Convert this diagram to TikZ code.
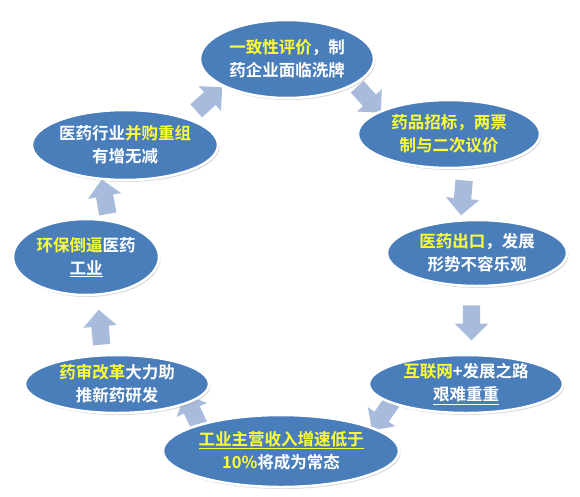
\documentclass[tikz,border=0pt]{standalone}
\usepackage{fontspec}
\newfontfamily\cjk{Noto Sans CJK SC Bold}
\usetikzlibrary{shapes.geometric, shapes.arrows, shadows, calc, backgrounds}

\definecolor{bubblefill}{HTML}{4A7EBB}
\definecolor{hilite}{HTML}{FFFF33}
\definecolor{arrowfill}{HTML}{A8BBDC}
\newcommand{\yel}[1]{\textcolor{hilite}{#1}}

\begin{document}
\begin{tikzpicture}[
        x=1pt, y=-1pt,
    bubble/.style={ellipse, draw=white, line width=2.5pt, fill=bubblefill, inner sep=0pt, drop shadow={shadow xshift=1.5pt, shadow yshift=-2pt, opacity=0.3}},
    btext/.style={text=white, align=center, inner sep=0pt, font=\cjk\fontsize{16.5}{23}\selectfont},
    blockarrow/.style={single arrow, draw=none, fill=arrowfill, minimum height=35pt, inner xsep=0pt, inner ysep=8.5pt, single arrow head extend=8pt}
    ]
    \useasboundingbox (0,0) rectangle (580,496);

    % nodes
    \node[bubble, minimum width=174pt, minimum height=78pt] (top) at (287,59) {};
    \node[bubble, minimum width=182pt, minimum height=68pt] (topright) at (449,134) {};
    \node[bubble, minimum width=180pt, minimum height=66pt] (rightmid) at (477,253) {};
    \node[bubble, minimum width=194pt, minimum height=58pt] (rightbot) at (466,384) {};
    \node[bubble, minimum width=236pt, minimum height=72pt] (bottom) at (281,451) {};
    \node[bubble, minimum width=184pt, minimum height=58pt] (leftbot) at (117,384) {};
    \node[bubble, minimum width=146pt, minimum height=76pt] (leftmid) at (86,257) {};
    \node[bubble, minimum width=186pt, minimum height=70pt] (lefttop) at (125,145) {};

    % texts
    \node[btext] (top-txt) at (top) {\yel{一致性评价}，制\\药企业面临洗牌};
    \node[btext] (topright-txt) at (topright) {\yel{药品招标，两票}\\\yel{制与二次议价}};
    \node[btext] (rightmid-txt) at (rightmid) {\yel{医药出口}，发展\\形势不容乐观};
    \node[btext] (rightbot-txt) at (rightbot) {\yel{互联网}+发展之路\\\underline{艰难重重}};
    \node[btext] (bottom-txt) at (bottom) {\yel{\underline{工业主营收入增速低于}}\\\yel{10\%}将成为常态};
    \node[btext] (leftbot-txt) at (leftbot) {\yel{药审改革}大力助\\推新药研发};
    \node[btext] (leftmid-txt) at (leftmid) {\yel{环保倒逼}医药\\\underline{工业}};
    \node[btext] (lefttop-txt) at (lefttop) {医药行业\yel{并购重组}\\有增无减};

    % arrows (behind the ellipses)
    \begin{scope}[on background layer]
    \node[blockarrow, rotate=42] (a1) at ($(lefttop)!0.5!(top)$) {};
    \node[blockarrow, rotate=-48] (a2) at ($(top)!0.5!(topright)+(-2,0)$) {};
    \node[blockarrow, rotate=-95] (a3) at ($(topright)!0.5!(rightmid)$) {};
    \node[blockarrow, rotate=-90] (a4) at ($(rightmid)!0.5!(rightbot)$) {};
    \node[blockarrow, rotate=-125] (a5) at ($(rightbot)!0.5!(bottom)+(11,-5)$) {};
    \node[blockarrow, rotate=115] (a6) at ($(bottom)!0.5!(leftbot)+(-5,-3)$) {};
    \node[blockarrow, rotate=95] (a7) at ($(leftbot)!0.5!(leftmid)+(-1,11)$) {};
    \node[blockarrow, rotate=100] (a8) at ($(leftmid)!0.5!(lefttop)$) {};
    \end{scope}

    \end{tikzpicture}
\end{document}
